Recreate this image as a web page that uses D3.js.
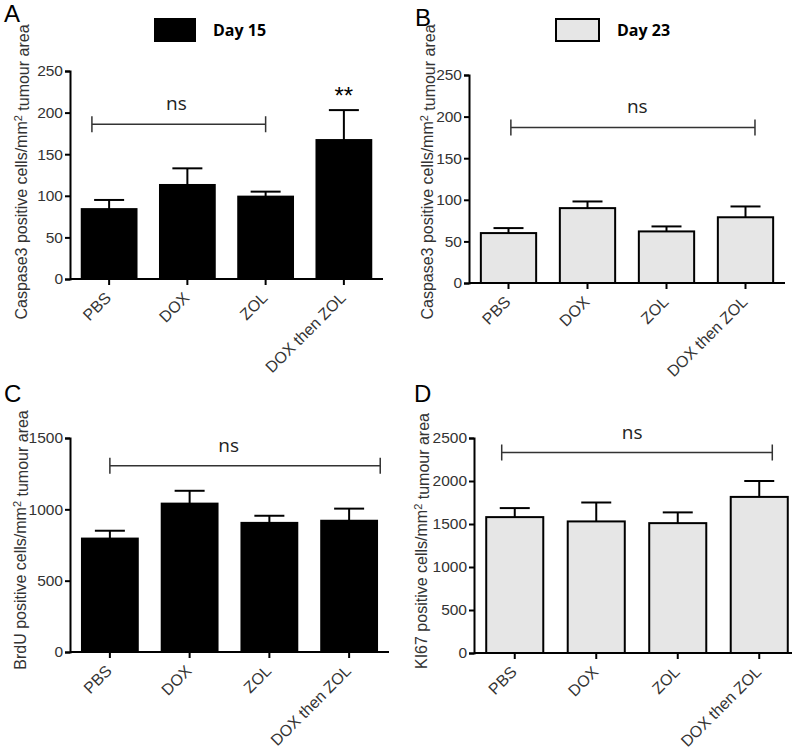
<!DOCTYPE html>
<html>
<head>
<meta charset="utf-8">
<script src="https://cdn.jsdelivr.net/npm/d3@7"></script>
<style>
  body { margin: 0; background: #fff; }
  text { font-family: "Liberation Sans", Arial, sans-serif; }
</style>
</head>
<body>
<script>
var groups = ["PBS", "DOX", "ZOL", "DOX then ZOL"];

// means and SEM
var caspDay15 = [84, 113, 99, 167];
var caspDay15Sem = [11, 20, 6, 36];
var caspDay23 = [60, 90, 62, 79];
var caspDay23Sem = [6, 8, 6, 13];
var brdu = [795, 1040, 905, 920];
var brduSem = [55, 90, 50, 85];
var ki67 = [1580, 1530, 1510, 1815];
var ki67Sem = [105, 220, 125, 185];

var ticksA = [0, 50, 100, 150, 200, 250];
var ticksC = [0, 500, 1000, 1500];
var ticksD = [0, 500, 1000, 1500, 2000, 2500];

var svg = d3.select("body").append("svg")
    .attr("width", 800)
    .attr("height", 751);

// bracket ends / label given in band units (0 = first group centre)
var panels = [
  {letter: "A", lx: 4, ly: 22, x0: 70, x1: 383, bandEnd: 383, y0: 279, y1: 71,
   max: 250, ticks: ticksA, mean: caspDay15, sem: caspDay15Sem, fill: "#000",
   title: ["Caspase3 positive cells/mm", " tumour area"], tx: 27, ty: 172,
   bracket: {from: -0.22, to: 2.0, at: 186, labelAt: 0.86, label: "ns"}, star: {idx: 3, label: "**"},
   legend: {x: 155, y: 19, w: 40, h: 22, text: "Day 15"}},
  {letter: "B", lx: 415, ly: 26, x0: 469, x1: 785, bandEnd: 785, y0: 283, y1: 75,
   max: 250, ticks: ticksA, mean: caspDay23, sem: caspDay23Sem, fill: "#e6e6e6",
   title: ["Caspase3 positive cells/mm", " tumour area"], tx: 433, ty: 172,
   bracket: {from: 0.03, to: 3.12, at: 187, labelAt: 1.63, label: "ns"},
   legend: {x: 556, y: 19, w: 43, h: 22, text: "Day 23"}},
  {letter: "C", lx: 4, ly: 402, x0: 70, x1: 389, bandEnd: 389, y0: 652, y1: 438,
   max: 1500, ticks: ticksC, mean: brdu, sem: brduSem, fill: "#000",
   title: ["BrdU positive cells/mm", " tumour area"], tx: 26, ty: 540,
   bracket: {from: 0, to: 3.39, at: 1305, labelAt: 1.49, label: "ns"}},
  {letter: "D", lx: 414, ly: 402, x0: 474, x1: 792, bandEnd: 800, y0: 653, y1: 438,
   max: 2500, ticks: ticksD, mean: ki67, sem: ki67Sem, fill: "#e6e6e6",
   title: ["KI67 positive cells/mm", " tumour area"], tx: 427, ty: 541,
   bracket: {from: -0.16, to: 3.16, at: 2330, labelAt: 1.44, label: "ns"}}
];

panels.forEach(function(p) {
  var g = svg.append("g");

  var x = d3.scaleBand()
      .domain(groups)
      .range([p.x0, p.bandEnd])
      .padding(0);
  var y = d3.scaleLinear()
      .domain([0, p.max])
      .range([p.y0, p.y1]);
  var bw = x.step() * 0.7;
  var cx = function(i) { return x(groups[i]) + x.bandwidth() / 2; };
  var bandPos = function(f) { return p.x0 + x.step() * (f + 0.5); };

  // panel letter
  g.append("text")
      .attr("x", p.lx).attr("y", p.ly)
      .style("font-size", "24px")
      .text(p.letter);

  // error bars (upper only)
  var eb = g.selectAll(".err").data(p.mean).enter().append("g");
  eb.append("line")
      .attr("x1", function(d, i) { return cx(i); })
      .attr("x2", function(d, i) { return cx(i); })
      .attr("y1", function(d) { return y(d); })
      .attr("y2", function(d, i) { return y(d + p.sem[i]); })
      .attr("stroke", "#000").attr("stroke-width", 2);
  eb.append("line")
      .attr("x1", function(d, i) { return cx(i) - 15; })
      .attr("x2", function(d, i) { return cx(i) + 15; })
      .attr("y1", function(d, i) { return y(d + p.sem[i]); })
      .attr("y2", function(d, i) { return y(d + p.sem[i]); })
      .attr("stroke", "#000").attr("stroke-width", 2);

  // bars
  g.selectAll(".bar").data(p.mean).enter().append("rect")
      .attr("x", function(d, i) { return cx(i) - bw / 2; })
      .attr("y", function(d) { return y(d); })
      .attr("width", bw)
      .attr("height", function(d) { return p.y0 - y(d); })
      .attr("fill", p.fill)
      .attr("stroke", "#000")
      .attr("stroke-width", 2);

  // y axis
  var yAxis = d3.axisLeft(y)
      .tickValues(p.ticks)
      .tickFormat(d3.format("d"))
      .tickSizeOuter(0)
      .tickSize(5)
      .tickPadding(2);
  var ya = g.append("g")
      .attr("transform", "translate(" + p.x0 + ",0)")
      .call(yAxis);
  ya.selectAll("path, line").attr("stroke", "#000").attr("stroke-width", 2);
  ya.selectAll("text")
      .style("font-size", "15.5px")
      .attr("fill", "#333");

  // x axis
  var xAxis = d3.axisBottom(x).tickSize(6).tickSizeOuter(0).tickFormat("");
  var xa = g.append("g")
      .attr("transform", "translate(0," + p.y0 + ")")
      .call(xAxis);
  xa.select(".domain").attr("d", "M" + p.x0 + ",0H" + p.x1);
  xa.selectAll("path, line").attr("stroke", "#000").attr("stroke-width", 2);

  g.selectAll(".xlab").data(groups).enter().append("text")
      .attr("transform", function(d, i) {
        return "translate(" + (cx(i) + 3) + "," + (p.y0 + 20) + ") rotate(-45)";
      })
      .attr("text-anchor", "end")
      .style("font-size", "16px")
      .attr("fill", "#333")
      .text(function(d) { return d; });

  // y axis title
  var t = g.append("text")
      .attr("transform", "translate(" + p.tx + "," + p.ty + ") rotate(-90)")
      .attr("text-anchor", "middle")
      .style("font-size", "16px")
      .attr("fill", "#333");
  t.append("tspan").text(p.title[0]);
  t.append("tspan").attr("dy", "-0.45em").style("font-size", "11px").text("2");
  t.append("tspan").attr("dy", "0.45em").text(p.title[1]);

  // significance bracket
  var b = p.bracket, by = y(b.at);
  var bx1 = bandPos(b.from), bx2 = bandPos(b.to);
  g.append("path")
      .attr("d", "M" + bx1 + "," + (by - 8) + "V" + (by + 8) +
                 "M" + bx1 + "," + by + "H" + bx2 +
                 "M" + bx2 + "," + (by - 8) + "V" + (by + 8))
      .attr("fill", "none")
      .attr("stroke", "#333")
      .attr("stroke-width", 1.5);
  g.append("text")
      .attr("x", bandPos(b.labelAt))
      .attr("y", by - 14)
      .attr("text-anchor", "middle")
      .style("font-family", "Open Sans, sans-serif")
      .style("font-size", "19px")
      .attr("fill", "#222")
      .text(b.label);

  if (p.star) {
    var si = p.star.idx;
    g.append("text")
        .attr("x", cx(si))
        .attr("y", y(p.mean[si] + p.sem[si]) - 6)
        .attr("text-anchor", "middle")
        .style("font-size", "24px")
        .text(p.star.label);
  }

  // legend
  if (p.legend) {
    var L = p.legend;
    g.append("rect")
        .attr("x", L.x).attr("y", L.y)
        .attr("width", L.w).attr("height", L.h)
        .attr("fill", p.fill)
        .attr("stroke", "#000").attr("stroke-width", 2);
    g.append("text")
        .attr("x", L.x + L.w + 18)
        .attr("y", L.y + L.h / 2)
        .attr("dy", "0.35em")
        .style("font-family", "Open Sans, sans-serif")
        .style("font-weight", "bold")
        .style("font-size", "16px")
        .text(L.text);
  }
});
</script>
</body>
</html>
